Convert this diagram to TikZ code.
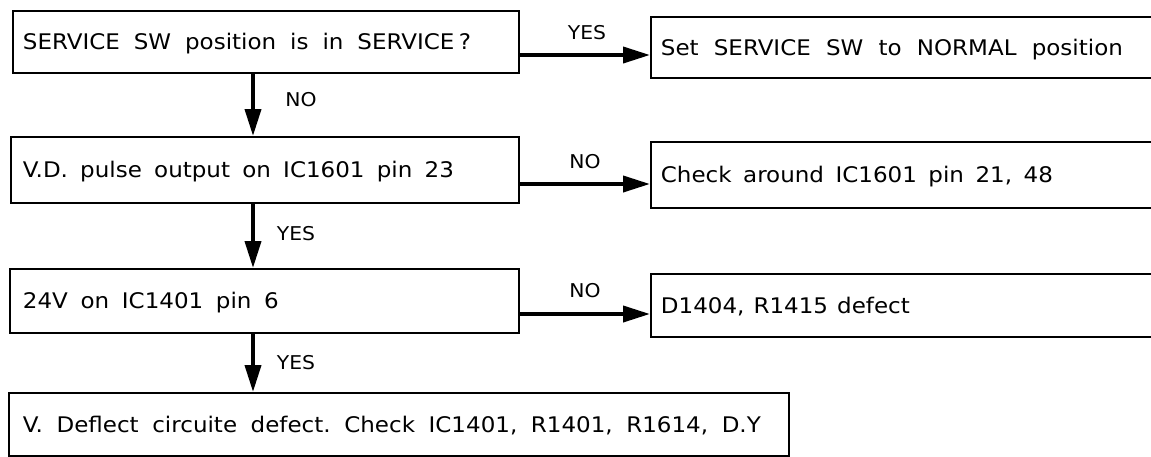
\documentclass[tikz,border=0pt]{standalone}
\usepackage{fontspec}
\setmainfont[FakeStretch=1.07]{DejaVu Sans}
\usetikzlibrary{arrows.meta}
\frenchspacing
\newcommand{\spreadto}[2]{\hbox to #1{\spaceskip=0.3em plus 1fil\relax #2}}
\begin{document}
\begin{tikzpicture}[x=1pt,y=-1pt,
  box/.style={draw=black, line width=1.8pt, anchor=north west, inner ysep=0pt,
    align=left, font=\fontsize{21.5}{26}\selectfont, text height=15.5pt, text depth=0pt},
  lab/.style={font=\fontsize{19}{22}\selectfont, inner sep=0pt},
  arr/.style={line width=3.8pt, -{Triangle[length=27pt,width=16pt]}}
]
\useasboundingbox (0,0) rectangle (1151,456);
\clip (0,0) rectangle (1151,456);
% left column
\node[box, inner xsep=10pt, text width=486pt, minimum height=62pt] (b1) at (12,10)
  {\spreadto{448pt}{SERVICE SW position is in SERVICE\kern.2em?}};
\node[box, inner xsep=12pt, text width=484pt, minimum height=66pt] (b2) at (10,136)
  {\spreadto{431pt}{V.D. pulse output on IC1601 pin 23}};
\node[box, inner xsep=13pt, text width=483pt, minimum height=64pt] (b3) at (9,268)
  {\spreadto{256pt}{24V on IC1401 pin 6}};
\node[box, inner xsep=14pt, text width=752pt, minimum height=63pt] (b4) at (8,392)
  {\spreadto{738pt}{V. Deflect circuite defect. Check IC1401, R1401, R1614, D.Y}};
% right column
\node[box, inner xsep=10pt, text width=500pt, minimum height=61pt] (r1) at (650,16)
  {\spreadto{462pt}{Set SERVICE SW to NORMAL position}};
\node[box, inner xsep=10pt, text width=500pt, minimum height=66pt] (r2) at (650,141)
  {\spreadto{392pt}{Check around IC1601 pin 21, 48}};
\node[box, inner xsep=10pt, text width=500pt, minimum height=63pt] (r3) at (650,273)
  {\spreadto{249pt}{D1404, R1415 defect}};
% helper coordinates
\coordinate (vx) at (253,0);
\coordinate (h1) at (0,55);
\coordinate (h2) at (0,184);
\coordinate (h3) at (0,314);
% vertical connectors
\draw[arr] (b1.south -| vx) -- (b2.north -| vx);
\draw[arr] (b2.south -| vx) -- (b3.north -| vx);
\draw[arr] (b3.south -| vx) -- (b4.north -| vx);
% horizontal connectors
\draw[arr] (b1.east |- h1) -- (r1.west |- h1);
\draw[arr] (b2.east |- h2) -- (r2.west |- h2);
\draw[arr] (b3.east |- h3) -- (r3.west |- h3);
% labels
\node[lab] (l1) at (301,100) {NO};
\node[lab] (l2) at (296,234) {YES};
\node[lab] (l3) at (296,363) {YES};
\node[lab] (l4) at (587,33) {YES};
\node[lab] (l5) at (585,162) {NO};
\node[lab] (l6) at (585,291) {NO};
\end{tikzpicture}
\end{document}
